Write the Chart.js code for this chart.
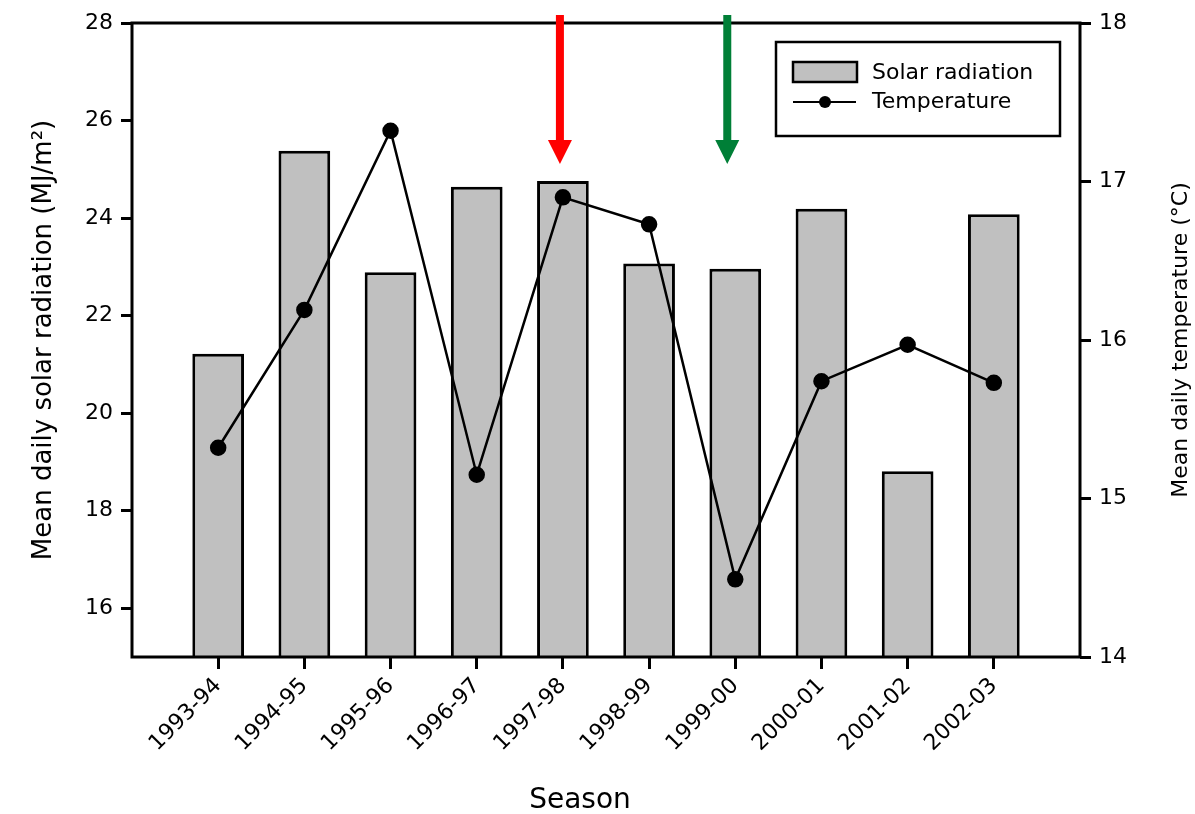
<!DOCTYPE html>
<html>
<head>
<meta charset="utf-8">
<title>Solar radiation and temperature by season</title>
<script src="https://cdn.jsdelivr.net/npm/chart.js@4/dist/chart.umd.min.js"></script>
<style>
  html, body { margin: 0; padding: 0; background: #fff; }
  #wrap { width: 1195px; height: 814px; position: relative; }
</style>
</head>
<body>
<div id="wrap"><canvas id="seasonChart" width="1195" height="814"></canvas></div>
<script>
const seasons = ['1993-94', '1994-95', '1995-96', '1996-97', '1997-98', '1998-99', '1999-00', '2000-01', '2001-02', '2002-03'];
const solarRadiation = [21.22, 25.38, 22.89, 24.64, 24.76, 23.07, 22.96, 24.19, 18.81, 24.08];
const temperature = [15.32, 16.19, 17.32, 15.15, 16.90, 16.73, 14.49, 15.74, 15.97, 15.73];
const radiationTicks = [16, 18, 20, 22, 24, 26, 28];
const temperatureTicks = [14, 15, 16, 17, 18];
const arrowSeasons = ['1997-98', '1999-00'];
const arrowColors = ['#ff0000', '#007f37'];

const FONT = '"DejaVu Sans", "Liberation Sans", Arial, sans-serif';
const BAR_FILL = '#c0c0c0';

(function () {
  const ctx = document.getElementById('seasonChart');

  // small nudges so the arrows sit where they do in the figure
  const arrowNudge = [-3, -8];

  const decorations = {
    id: 'decorations',
    afterDatasetsDraw(chart) {
      const { ctx: c, chartArea: area, scales } = chart;
      c.save();

      // frame around the plot
      c.strokeStyle = '#000';
      c.lineWidth = 3;
      c.strokeRect(area.left, area.top, area.right - area.left, area.bottom - area.top);

      // arrows above two seasons
      arrowSeasons.forEach((name, i) => {
        const x = scales.x.getPixelForValue(seasons.indexOf(name)) + arrowNudge[i];
        const top = area.top - 8;
        const tip = area.top + 141;
        const headLen = 24;
        c.fillStyle = arrowColors[i];
        c.fillRect(x - 4, top, 8, tip - headLen - top + 1);
        c.beginPath();
        c.moveTo(x - 12, tip - headLen);
        c.lineTo(x + 12, tip - headLen);
        c.lineTo(x, tip);
        c.closePath();
        c.fill();
      });

      // legend box
      const lx = 776, ly = 42, lw = 284, lh = 94;
      c.fillStyle = '#fff';
      c.fillRect(lx, ly, lw, lh);
      c.strokeStyle = '#000';
      c.lineWidth = 2.5;
      c.strokeRect(lx, ly, lw, lh);

      c.fillStyle = BAR_FILL;
      c.fillRect(lx + 17, ly + 20, 64, 20);
      c.strokeRect(lx + 17, ly + 20, 64, 20);

      c.lineWidth = 2;
      c.beginPath();
      c.moveTo(lx + 17, ly + 60);
      c.lineTo(lx + 80, ly + 60);
      c.stroke();
      c.fillStyle = '#000';
      c.beginPath();
      c.arc(lx + 49, ly + 60, 6, 0, Math.PI * 2);
      c.fill();

      c.font = '22px ' + FONT;
      c.textAlign = 'left';
      c.textBaseline = 'middle';
      c.fillText('Solar radiation', lx + 96, ly + 31);
      c.fillText('Temperature', lx + 96, ly + 60);

      // right axis title reads bottom to top
      c.save();
      c.translate(1181, (area.top + area.bottom) / 2);
      c.rotate(-Math.PI / 2);
      c.textAlign = 'center';
      c.font = '22px ' + FONT;
      c.fillText('Mean daily temperature (\u00B0C)', 0, 0);
      c.restore();

      // x title
      c.font = '28px ' + FONT;
      c.textAlign = 'center';
      c.fillText('Season', 580, 801);

      c.restore();
    },
  };

  new Chart(ctx, {
    data: {
      datasets: [
        {
          type: 'line',
          label: 'Temperature',
          data: temperature.map((t, i) => ({ x: i, y: t })),
          yAxisID: 'y1',
          borderColor: '#000',
          borderWidth: 2.5,
          pointBackgroundColor: '#000',
          pointBorderColor: '#000',
          pointRadius: 7,
          pointStyle: 'circle',
          tension: 0,
          order: 0,
        },
        {
          type: 'bar',
          label: 'Solar radiation',
          data: solarRadiation.map((v, i) => ({ x: i, y: v })),
          yAxisID: 'y',
          backgroundColor: BAR_FILL,
          borderColor: '#000',
          borderWidth: 3,
          categoryPercentage: 1,
          barPercentage: 0.6,
          order: 1,
        },
      ],
    },
    options: {
      responsive: false,
      animation: false,
      layout: { padding: { top: 23, left: 0, right: 0, bottom: 0 } },
      plugins: {
        legend: { display: false },
        tooltip: { enabled: false },
      },
      scales: {
        x: {
          type: 'linear',
          min: -1,
          max: 10,
          offset: false,
          afterBuildTicks(scale) {
            scale.ticks = seasons.map((s, i) => ({ value: i }));
          },
          afterFit(scale) { scale.height = 157; },
          border: { display: false },
          grid: { offset: false, drawOnChartArea: false, drawTicks: true, tickLength: 12, color: '#000', lineWidth: 3 },
          ticks: {
            autoSkip: false,
            minRotation: 45,
            maxRotation: 45,
            padding: 4,
            color: '#000',
            font: { family: FONT, size: 22 },
            callback(value) { return seasons[value] ?? ''; },
          },
        },
        y: {
          position: 'left',
          min: 15,
          max: 28,
          afterBuildTicks(scale) {
            scale.ticks = radiationTicks.map((v) => ({ value: v }));
          },
          afterFit(scale) { scale.width = 132; },
          border: { display: false },
          grid: { drawOnChartArea: false, drawTicks: true, tickLength: 11, color: '#000', lineWidth: 3 },
          ticks: { color: '#000', padding: 8, font: { family: FONT, size: 22 } },
          title: {
            display: true,
            text: 'Mean daily solar radiation (MJ/m\u00B2)',
            color: '#000',
            font: { family: FONT, size: 26 },
            padding: { top: 29, bottom: 0 },
          },
        },
        y1: {
          position: 'right',
          min: 14,
          max: 18,
          afterBuildTicks(scale) {
            scale.ticks = temperatureTicks.map((v) => ({ value: v }));
          },
          afterFit(scale) { scale.width = 115; },
          border: { display: false },
          grid: { drawOnChartArea: false, drawTicks: true, tickLength: 11, color: '#000', lineWidth: 3 },
          ticks: { color: '#000', padding: 8, font: { family: FONT, size: 22 } },
        },
      },
    },
    plugins: [decorations],
  });
})();
</script>
</body>
</html>
